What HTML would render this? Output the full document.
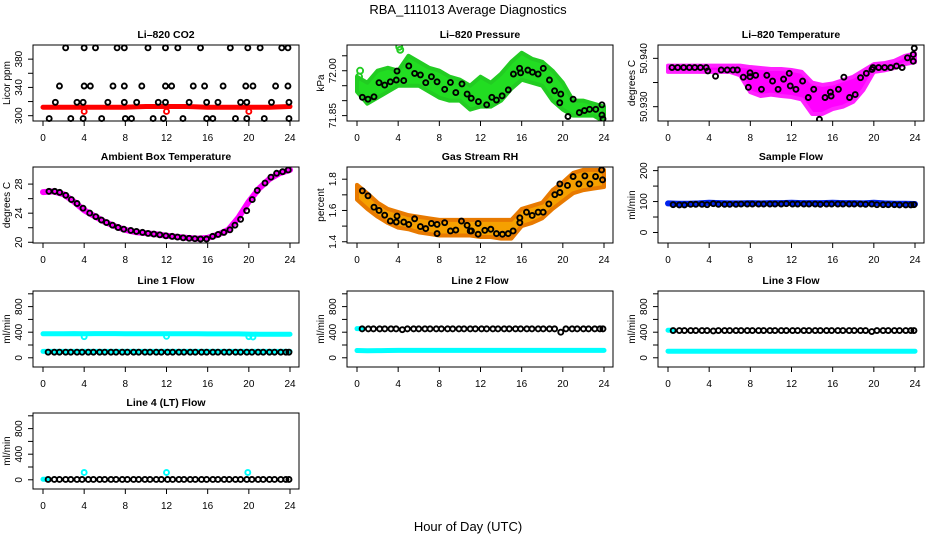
<!DOCTYPE html>
<html><head><meta charset="utf-8">
<style>
html,body{margin:0;padding:0;background:#fff;}
svg{display:block;font-family:"Liberation Sans",Arial,sans-serif;}
</style></head>
<body>
<svg id="chart" width="936" height="540" viewBox="0 0 936 540" xmlns="http://www.w3.org/2000/svg">
<text x="468" y="14" text-anchor="middle" font-size="13">RBA_111013  Average Diagnostics</text>
<text x="468" y="531" text-anchor="middle" font-size="13">Hour of Day (UTC)</text>
</svg>
<script>
// ---- data ----
const xTicks = [0,4,8,12,16,20,24];
// CO2
const co2BandHours = [0,2,4,6,8,10,12,14,16,18,20,22,24];
const co2BandVals = [312,312,312,312,312,313,313,313,312,312,312,312,313];
const co2OutHours = [4.0,12.0,20.0];
const co2OutVals = [306,306,306];
const co2Hours = [2.2,4.0,5.1,7.2,7.9,10.2,11.9,13.1,15.3,18.2,19.9,21.1,23.2,23.8,
 1.6,4.0,4.6,6.8,7.9,9.6,11.9,12.5,14.6,15.7,17.5,19.7,20.4,22.6,23.8,
 1.2,3.3,3.9,6.3,7.9,9.1,11.2,11.9,14.2,15.9,17.0,19.2,19.8,22.2,23.9,
 0.6,2.7,3.9,5.7,8.0,8.6,10.7,11.7,13.6,15.9,16.5,18.7,19.8,21.5,23.9];
const co2Vals = [396,396,396,396,396,396,396,396,396,396,396,396,396,396,
 342,342,342,342,342,342,342,342,342,342,342,342,342,342,342,
 319,319,319,319,319,319,319,319,319,319,319,319,319,319,319,
 296,296,296,296,296,296,296,296,296,296,296,296,296,296,296];
// Pressure
const bandHours = [0,1,2,3,4,5,6,7,8,9,10,11,12,13,14,15,16,17,18,19,20,21,22,23,24];
const presLow = [71.93,71.89,71.91,71.93,71.95,71.95,71.95,71.93,71.91,71.90,71.90,71.87,71.88,71.88,71.90,71.94,71.97,71.96,71.95,71.90,71.87,71.85,71.85,71.85,71.83];
const presHigh = [71.98,71.96,72.00,72.01,72.00,72.05,72.03,72.01,72.00,71.98,71.97,71.95,71.98,71.96,71.99,72.03,72.06,72.04,72.03,72.00,71.96,71.90,71.90,71.89,71.88];
const presExtraHours = [4.1,4.2,0.3,0.2];
const presExtraVals = [72.08,72.07,72.00,71.98];
const presHours = [0.52,1.07,1.65,2.14,2.69,3.24,3.82,3.89,4.54,5.03,5.6,6.16,6.68,7.23,7.78,8.52,9.08,9.6,10.2,10.7,11.1,11.8,12.6,13.1,13.55,14.1,14.7,15.2,15.8,15.9,16.6,17.05,17.6,18.1,18.7,19.2,19.7,19.8,20.5,21.0,21.6,22.1,22.6,23.2,23.8,23.8,23.9];
const presVals = [71.911,71.905,71.913,71.960,71.952,71.963,71.969,71.999,71.967,72.016,71.991,71.986,71.960,71.980,71.963,71.938,71.961,71.927,71.956,71.922,71.908,71.897,71.886,71.911,71.902,71.916,71.936,71.989,72.008,71.993,72.002,71.995,71.989,72.008,71.969,71.933,71.893,71.922,71.847,71.905,71.860,71.867,71.871,71.871,71.886,71.852,71.839];
// Li-820 temperature
const tempLow = [50.9372,50.9372,50.9372,50.9372,50.9372,50.9372,50.9372,50.9365,50.9330,50.9322,50.9325,50.9322,50.9320,50.9315,50.9285,50.9285,50.9295,50.9300,50.9310,50.9335,50.9372,50.9375,50.9380,50.9388,50.9392];
const tempHigh = [50.9385,50.9385,50.9385,50.9385,50.9385,50.9385,50.9385,50.9385,50.9382,50.9380,50.9378,50.9378,50.9376,50.9372,50.9350,50.9345,50.9348,50.9355,50.9362,50.9375,50.9388,50.9390,50.9395,50.9405,50.9410];
const tempHours = [0.39,0.94,1.52,2.08,2.6,3.15,3.71,3.87,4.62,5.17,5.76,6.31,6.74,7.32,7.81,7.97,7.97,8.52,9.08,9.6,10.16,10.7,11.23,11.78,11.88,12.43,13.08,13.63,14.16,14.71,15.26,15.78,15.85,16.56,17.09,17.64,18.19,18.71,19.27,19.82,19.92,20.47,21.05,21.64,22.2,22.75,23.27,23.83,23.83,23.93];
const tempVals = [50.9381,50.9381,50.9381,50.9381,50.9381,50.9381,50.9381,50.9374,50.9363,50.9376,50.9376,50.9376,50.9376,50.9361,50.9340,50.9370,50.9362,50.9365,50.9336,50.9365,50.9353,50.9336,50.9357,50.9369,50.9343,50.9336,50.9353,50.9319,50.9336,50.9274,50.9319,50.9330,50.9322,50.9336,50.9361,50.9319,50.9325,50.9360,50.9369,50.9377,50.9381,50.9381,50.9381,50.9381,50.9384,50.9381,50.9401,50.9408,50.9394,50.9421];
// Ambient box temperature
const ambLine = [26.9,27.0,26.6,25.6,24.4,23.6,22.8,22.2,21.7,21.4,21.25,21.1,20.9,20.75,20.6,20.5,20.6,21.05,21.7,23.4,25.6,27.4,28.7,29.5,29.95];
const ambHours = [0.58,1.14,1.62,2.21,2.76,3.31,3.89,4.54,5.13,5.68,6.17,6.75,7.3,7.85,8.53,9.08,9.67,10.21,10.77,11.35,11.94,12.55,13.07,13.62,14.2,14.76,15.31,15.89,16.48,17.02,17.58,18.16,18.65,19.2,19.79,20.33,20.82,21.57,22.15,22.7,23.28,23.83];
const ambVals = [27.0,27.0,26.86,26.46,25.87,25.33,24.69,24.01,23.52,23.06,22.71,22.35,22.03,21.80,21.63,21.49,21.36,21.22,21.13,21.03,20.89,20.81,20.72,20.62,20.54,20.49,20.45,20.45,20.81,21.08,21.36,21.71,22.35,23.16,24.34,25.87,27.13,28.14,28.95,29.49,29.71,29.94];
// Gas stream RH
const rhLow = [1.669,1.61,1.56,1.52,1.49,1.48,1.46,1.45,1.44,1.44,1.44,1.44,1.43,1.43,1.42,1.42,1.50,1.52,1.55,1.61,1.66,1.71,1.73,1.74,1.75];
const rhHigh = [1.764,1.71,1.65,1.61,1.59,1.57,1.56,1.55,1.54,1.54,1.54,1.54,1.54,1.54,1.54,1.54,1.61,1.63,1.65,1.73,1.78,1.84,1.86,1.86,1.86];
const rhHours = [0.52,1.07,1.65,2.14,2.69,3.24,3.82,3.89,4.54,5.03,5.6,6.16,6.68,7.23,7.78,7.78,8.52,9.08,9.6,10.15,10.7,11.0,11.12,11.77,11.77,12.42,13.0,13.55,14.13,14.69,15.17,15.82,15.82,16.47,17.02,17.6,18.09,18.64,19.22,19.71,19.71,20.45,21.0,21.56,22.14,22.63,23.18,23.77,23.86];
const rhVals = [1.726,1.694,1.621,1.600,1.570,1.532,1.526,1.564,1.526,1.511,1.547,1.497,1.484,1.517,1.511,1.452,1.522,1.469,1.475,1.532,1.505,1.469,1.469,1.517,1.448,1.473,1.480,1.452,1.448,1.452,1.469,1.553,1.522,1.589,1.568,1.589,1.589,1.642,1.701,1.715,1.770,1.760,1.817,1.770,1.821,1.770,1.817,1.859,1.796];
// Flow panels (circle hours shared)
const flowHours = [0.5,1.1,1.6,2.2,2.7,3.3,3.8,4.4,4.9,5.5,6.0,6.6,7.1,7.7,8.2,8.8,9.3,9.9,10.4,11.0,11.5,12.1,12.6,13.2,13.7,14.3,14.8,15.4,15.9,16.5,17.0,17.6,18.1,18.7,19.2,19.8,20.3,20.9,21.4,22.0,22.5,23.1,23.6,23.9];
const sampleBand = [94,93,93,94,96,95,94,94,95,94,95,95,96,95,95,95,96,95,95,94,96,94,93,93,92];
const sampleVals = [90,89,89,91,91,91,90,93,91,91,91,91,92,92,92,92,92,92,92,92,93,92,92,92,92,92,91,92,92,92,92,92,92,92,91,92,90,90,90,90,89,89,89,90];
const line1Upper = [375,375,376,378,376,378,377,377,376,376,376,376,376,376,376,376,374,374,374,374,370,368,368,368,368];
const line1Lower = [100,100,100,100,100,100,100,100,100,100,100,100,100,100,100,100,100,100,100,100,100,100,100,100,100];
const line1Vals = [88,88,88,88,88,88,88,88,88,88,88,88,88,88,88,88,88,88,88,88,88,88,88,88,88,88,88,88,88,88,88,88,88,88,88,88,88,88,88,88,88,88,88,88];
const line1OutHours = [4.0,12.0,20.0,20.4];
const line1OutVals = [330,335,330,325];
const line2Lower = [114,110,112,114,116,116,116,116,116,116,116,116,116,116,116,116,116,116,116,116,116,116,116,116,116];
const line2Vals = [452,452,452,452,452,452,452,440,452,452,452,452,452,452,452,452,452,452,452,452,452,452,452,452,452,452,452,452,452,452,452,452,452,452,452,400,452,452,452,452,452,452,452,452];
const line3Lower = [103,103,103,103,103,103,103,103,103,103,103,103,103,103,103,103,103,103,103,103,103,103,103,103,103];
const line3Vals = [426,426,426,426,426,426,426,420,426,426,426,426,426,426,426,426,426,426,426,426,426,426,426,426,426,426,426,426,426,426,426,426,426,426,426,410,426,426,426,426,426,426,426,426];
const line4Vals = [5,5,5,5,5,5,5,5,5,5,5,5,5,5,5,5,5,5,5,5,5,5,5,5,5,5,5,5,5,5,5,5,5,5,5,5,5,5,5,5,5,5,5,5];
const line4OutHours = [4.0,12.0,19.9];
const line4OutVals = [114,114,114];

// ---- drawing ----
const NS = "http://www.w3.org/2000/svg";
const svg = document.getElementById('chart');
const COLS = [33,347,658], ROWS = [45,167,291,413], W = 266, H = 76;
function mk(tag, attrs, parent){
  const e = document.createElementNS(NS, tag);
  for (const k in attrs) e.setAttribute(k, attrs[k]);
  (parent||svg).appendChild(e); return e;
}
function panel(name, col, row, title, ytitle, ymin, ymax, yTicks, yLabels){
  const L = COLS[col], T = ROWS[row];
  const g = mk('g', {});
  
  
  const xs = h => L + 10 + h * (247/24);
  const ys = v => T + H - (v - ymin) / (ymax - ymin) * H;
  const tt = mk('text', {x: L + W/2, y: T - 7, 'text-anchor':'middle', 'font-size':'10.5', 'font-weight':'bold'}, g);
  tt.textContent = title;
  
  
  const plot = mk('g', {}, g);
  
  
  const box = mk('rect', {x:L, y:T, width:W, height:H, fill:'none', stroke:'#000', 'stroke-width':1}, g);
  
  
  const xa = mk('g', {}, g);
  
  
  mk('line', {x1:xs(0), x2:xs(24), y1:T+H, y2:T+H, stroke:'#000'}, xa);
  xTicks.forEach(t => {
    mk('line', {x1:xs(t), x2:xs(t), y1:T+H, y2:T+H+5, stroke:'#000'}, xa);
    const lb = mk('text', {x:xs(t), y:T+H+20, 'text-anchor':'middle', 'font-size':'10'}, xa);
    lb.textContent = t;
    
    
  });
  const ya = mk('g', {}, g);
  
  
  yTicks.forEach(t => {
    mk('line', {x1:L-5, x2:L, y1:ys(t), y2:ys(t), stroke:'#000'}, ya);
  });
  yLabels.forEach(t => {
    const lb = mk('text', {x:L-11, y:ys(t), 'text-anchor':'middle', 'font-size':'10', transform:`rotate(-90 ${L-11} ${ys(t)})`}, ya);
    lb.textContent = t;
    
    
  });
  const yt = mk('text', {x:L-23, y:T+H/2, 'text-anchor':'middle', 'font-size':'10', transform:`rotate(-90 ${L-23} ${T+H/2})`}, g);
  yt.textContent = ytitle;
  
  
  return {xs, ys, plot, L, T};
}
function clip(p){
  const id = 'c' + Math.round(p.L) + '_' + p.T;
  const cp = mk('clipPath', {id});
  mk('rect', {x:p.L, y:p.T, width:W, height:H}, cp);
  p.plot.setAttribute('clip-path', `url(#${id})`);
}
function band(p, hours, lo, hi, fill, stroke, name){
  let pts = hours.map((h,i)=>`${p.xs(h)},${p.ys(hi[i])}`);
  for (let i = hours.length-1; i >= 0; i--) pts.push(`${p.xs(hours[i])},${p.ys(lo[i])}`);
  const e = mk('polygon', {points: pts.join(' '), fill, stroke, 'stroke-width':4, 'stroke-linejoin':'round'}, p.plot);
  
  
}
function line(p, hours, vals, color, w, name){
  const e = mk('polyline', {points: hours.map((h,i)=>`${p.xs(h)},${p.ys(vals[i])}`).join(' '), fill:'none', stroke:color, 'stroke-width':w, 'stroke-linecap':'round', 'stroke-linejoin':'round'}, p.plot);
  
  
}
function pts(p, hours, vals, color, name, r){
  hours.forEach((h,i) => {
    const c = mk('circle', {cx:p.xs(h), cy:p.ys(vals[i]), r: r||2.5, fill:'none', stroke:color, 'stroke-width':1.9}, p.plot);
    
    
  });
}

let p = panel('panel-li820-co2', 0, 0, 'Li\u2013820 CO2', 'Licor ppm', 292.5, 400, [300,320,340,360,380], [300,340,380]);
line(p, co2BandHours, co2BandVals, '#ff0000', 5, 'co2-series');
pts(p, co2OutHours, co2OutVals, '#ff0000', 'co2-outlier');
pts(p, co2Hours, co2Vals, '#000', 'co2-average-point');

p = panel('panel-li820-pressure', 1, 0, 'Li\u2013820 Pressure', 'kPa', 71.832, 72.086, [71.85,71.90,71.95,72.00,72.05], ['71.85','72.00']);
clip(p);
band(p, bandHours, presLow, presHigh, '#22dd22', '#22cc22', 'pressure-series');
pts(p, presExtraHours, presExtraVals, '#22cc22', 'pressure-raw-point', 3);
pts(p, presHours, presVals, '#000', 'pressure-average-point');

p = panel('panel-li820-temperature', 2, 0, 'Li\u2013820 Temperature', 'degrees C', 50.92704, 50.94276, [50.930,50.935,50.940], ['50.930','50.940']);
clip(p);
band(p, bandHours, tempLow, tempHigh, '#ff00ff', '#ff22ff', 'temperature-series');
pts(p, tempHours, tempVals, '#000', 'temperature-average-point');

p = panel('panel-ambient-box-temperature', 0, 1, 'Ambient Box Temperature', 'degrees C', 19.9, 30.35, [20,22,24,26,28], [20,24,28]);
line(p, bandHours, ambLine, '#ff00ff', 6, 'ambient-series');
pts(p, ambHours, ambVals, '#000', 'ambient-average-point');

p = panel('panel-gas-stream-rh', 1, 1, 'Gas Stream RH', 'percent', 1.392, 1.878, [1.4,1.5,1.6,1.7,1.8], ['1.4','1.6','1.8']);
clip(p);
band(p, bandHours, rhLow, rhHigh, '#f5a000', '#e87a00', 'rh-series');
pts(p, rhHours, rhVals, '#000', 'rh-average-point');

p = panel('panel-sample-flow', 2, 1, 'Sample Flow', 'ml/min', -34, 211.7, [0,50,100,150,200], [0,100,200]);
line(p, bandHours, sampleBand, '#0022ee', 6, 'sample-flow-series');
pts(p, flowHours, sampleVals, '#000', 'sample-flow-average-point');

const fT = [0,200,400,600,800,1000], fL = [0,400,800];
p = panel('panel-line1-flow', 0, 2, 'Line 1 Flow', 'ml/min', -144, 1044, fT, fL);
line(p, bandHours, line1Upper, '#00ffff', 5, 'line1-upper-series');
line(p, bandHours, line1Lower, '#00ffff', 5, 'line1-lower-series');
pts(p, line1OutHours, line1OutVals, '#00ffff', 'line1-outlier');
pts(p, flowHours, line1Vals, '#000', 'line1-average-point');

p = panel('panel-line2-flow', 1, 2, 'Line 2 Flow', 'ml/min', -144, 1044, fT, fL);
line(p, [0,0.5], [455,455], '#00ffff', 5, 'line2-upper-series');
line(p, bandHours, line2Lower, '#00ffff', 5, 'line2-lower-series');
pts(p, flowHours, line2Vals, '#000', 'line2-average-point');

p = panel('panel-line3-flow', 2, 2, 'Line 3 Flow', 'ml/min', -144, 1044, fT, fL);
line(p, [0,0.5], [430,430], '#00ffff', 5, 'line3-upper-series');
line(p, bandHours, line3Lower, '#00ffff', 5, 'line3-lower-series');
pts(p, flowHours, line3Vals, '#000', 'line3-average-point');

p = panel('panel-line4-flow', 0, 3, 'Line 4 (LT) Flow', 'ml/min', -144, 1044, fT, fL);
line(p, [0,0.5], [8,8], '#00ffff', 5, 'line4-series');
pts(p, line4OutHours, line4OutVals, '#00ffff', 'line4-outlier');
pts(p, flowHours, line4Vals, '#000', 'line4-average-point');
</script>
</body></html>
